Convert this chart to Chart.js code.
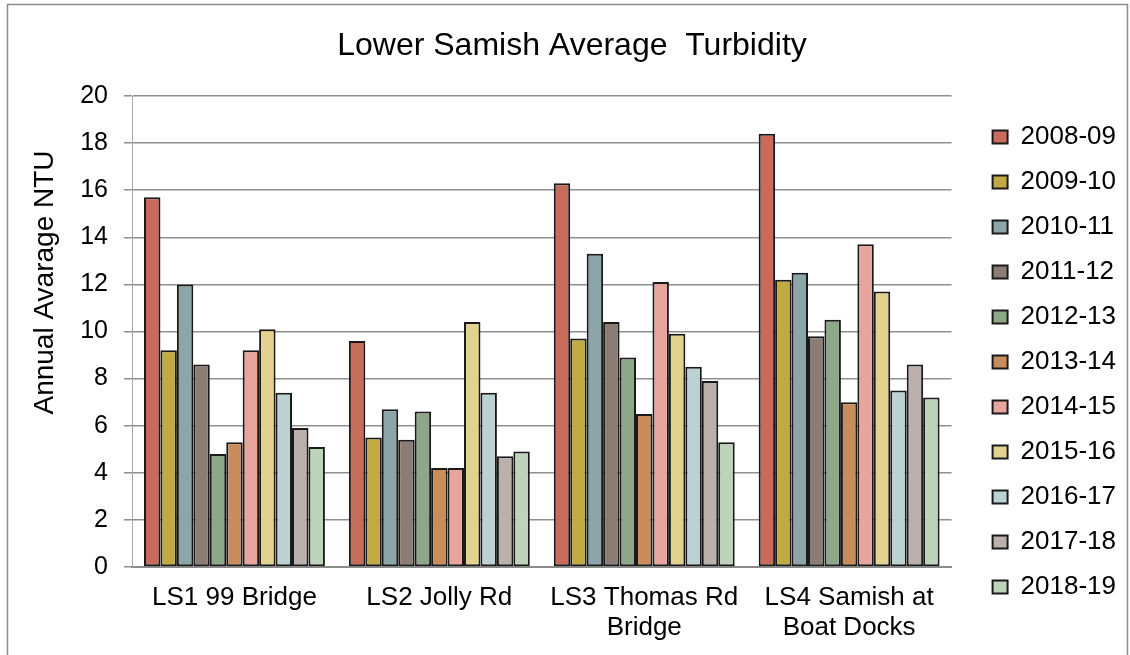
<!DOCTYPE html>
<html>
<head>
<meta charset="utf-8">
<title>Lower Samish Average Turbidity</title>
<script src="https://cdn.jsdelivr.net/npm/chart.js"></script>
<style>
body{
  margin:0;
  background:#fff;
}
</style>
</head>
<body>

<canvas id="chart" width="1130" height="655"></canvas>

<script>

// ================= DATA =================
const sites = ['LS1 99 Bridge', 'LS2 Jolly Rd', ['LS3 Thomas Rd', 'Bridge'], ['LS4 Samish at', 'Boat Docks']];
const years = ['2008-09','2009-10','2010-11','2011-12','2012-13','2013-14','2014-15','2015-16','2016-17','2017-18','2018-19'];

const y0809 = [15.7, 9.6, 16.3, 18.4];
const y0910 = [9.2, 5.5, 9.7, 12.2];
const y1011 = [12.0, 6.7, 13.3, 12.5];
const y1112 = [8.6, 5.4, 10.4, 9.8];
const y1213 = [4.8, 6.6, 8.9, 10.5];
const y1314 = [5.3, 4.2, 6.5, 7.0];
const y1415 = [9.2, 4.2, 12.1, 13.7];
const y1516 = [10.1, 10.4, 9.9, 11.7];
const y1617 = [7.4, 7.4, 8.5, 7.5];
const y1718 = [5.9, 4.7, 7.9, 8.6];
const y1819 = [5.1, 4.9, 5.3, 7.2];

const yTicks = [0, 2, 4, 6, 8, 10, 12, 14, 16, 18, 20];

// ================= STYLE =================
const colors = ['#c76b5a','#c1aa42','#8ba5a8','#8b7d74','#8da888','#c98c5a','#e8a59e','#e3d28e','#bcd1d2','#bbb0ac','#bdd3ba'];
const series = [y0809, y0910, y1011, y1112, y1213, y1314, y1415, y1516, y1617, y1718, y1819];
const FONT = "'Liberation Sans', Arial, sans-serif";

// outer frame like the spreadsheet chart border
const frame = {
  id: 'frame',
  beforeDraw(chart){
    const c = chart.ctx;
    c.save();
    c.fillStyle = '#fff';
    c.fillRect(0, 0, chart.width, chart.height);
    c.strokeStyle = '#8a8a8a';
    c.lineWidth = 1.5;
    c.strokeRect(7.5, 4.5, 1120, 700);
    c.restore();
  }
};

// ================= CHART =================
new Chart(document.getElementById('chart'), {
  type: 'bar',
  data: {
    labels: sites,
    datasets: series.map((d, i) => ({
      label: years[i],
      data: d,
      backgroundColor: colors[i],
      borderColor: '#1a1a1a',
      borderWidth: 2,
      borderSkipped: false,
      categoryPercentage: 0.883,
      barPercentage: 1
    }))
  },
  options: {
    responsive: false,
    devicePixelRatio: 1,
    animation: false,
    layout: { padding: { left: 18, right: 4, top: 0, bottom: 0 } },
    plugins: {
      title: {
        display: true,
        text: 'Lower Samish Average  Turbidity',
        color: '#000',
        font: { family: FONT, size: 32, weight: 'normal', lineHeight: 1.2 },
        padding: { top: 27, bottom: 30.6 }
      },
      legend: {
        position: 'right',
        align: 'start',
        title: { display: true, text: '', font: { size: 10, lineHeight: 1 }, padding: { top: 95, bottom: 0 } },
        labels: {
          color: '#000',
          font: { family: FONT, size: 26 },
          boxWidth: 15,
          boxHeight: 13,
          padding: 19
        }
      },
      tooltip: { enabled: false }
    },
    scales: {
      x: {
        grid: { display: false, drawTicks: false },
        border: { display: true, color: '#8a8a8a', width: 2 },
        ticks: {
          color: '#000',
          padding: 16,
          maxRotation: 0,
          autoSkip: false,
          font: { family: FONT, size: 26, lineHeight: 1.15 }
        },
        afterFit: s => { s.height = 88; }
      },
      y: {
        min: 0,
        max: 20,
        afterBuildTicks: s => { s.ticks = yTicks.map(v => ({ value: v })); },
        grid: { color: '#8f8f8f', lineWidth: 1.5, drawTicks: true, tickLength: 8 },
        border: { display: true, color: '#a8a8a8', width: 1 },
        ticks: {
          color: '#000',
          padding: 16,
          font: { family: FONT, size: 25 }
        },
        title: {
          display: true,
          align: 'end',
          text: 'Annual Avarage NTU       ',
          color: '#000',
          font: { family: FONT, size: 28, lineHeight: 1.2 },
          padding: { top: 10, bottom: 0 }
        },
        afterFit: s => { s.width = 114; }
      },
      y2: {
        position: 'right',
        display: true,
        grid: { display: false, drawTicks: false },
        border: { display: false },
        ticks: { display: false },
        afterFit: s => { s.width = 22; }
      }
    }
  },
  plugins: [frame]
});

</script>

</body>
</html>
